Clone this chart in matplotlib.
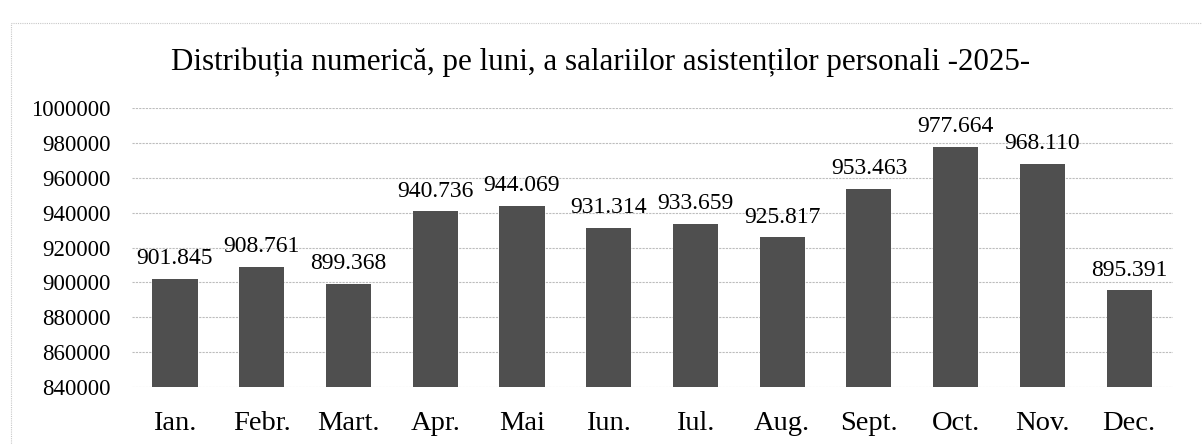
import matplotlib.pyplot as plt
from matplotlib.patches import Rectangle

luni = ["Ian.", "Febr.", "Mart.", "Apr.", "Mai", "Iun.", "Iul.", "Aug.",
        "Sept.", "Oct.", "Nov.", "Dec."]
salarii = [901845, 908761, 899368, 940736, 944069, 931314, 933659, 925817,
           953463, 977664, 968110, 895391]
y_ticks = list(range(840000, 1000001, 20000))

plt.rcParams["font.family"] = "Liberation Serif"

fig = plt.figure(figsize=(12.02, 4.44), dpi=100)
ax = fig.add_axes([0.1095, 0.128, 0.866, 0.629])

# chenarul graficului
fig.patches.append(Rectangle((0.009, -0.01), 0.995, 0.958, transform=fig.transFigure,
                             fill=False, edgecolor="#c8c8c8", linewidth=0.8,
                             linestyle=(0, (1, 1))))

x = range(len(luni))
bars = ax.bar(x, [v - 840000 for v in salarii], bottom=840000, width=0.52,
              color="#4f4f4f", zorder=3)

for i, v in enumerate(salarii):
    ax.annotate(f"{v:,}".replace(",", "."), (i, v), xytext=(0, 7),
                textcoords="offset points", ha="center", va="bottom",
                fontsize=17)

ax.set_ylim(840000, 1000000)
ax.set_xlim(-0.5, len(luni) - 0.5)
ax.set_yticks(y_ticks)
ax.set_yticklabels([str(t) for t in y_ticks], fontsize=16.5)
ax.set_xticks(list(x))
ax.set_xticklabels(luni, fontsize=20.5)
ax.tick_params(axis="y", length=0, pad=15)
ax.tick_params(axis="x", length=0, pad=17)
ax.grid(axis="y", color="#bdbdbd", linewidth=0.8, linestyle=(0, (2, 1)), zorder=0)
for s in ax.spines.values():
    s.set_visible(False)

fig.text(0.5, 0.86, "Distribuția numerică, pe luni, a salariilor asistenților personali -2025-",
         ha="center", va="center", fontsize=22.3)

fig.savefig("out.png", dpi=100)
